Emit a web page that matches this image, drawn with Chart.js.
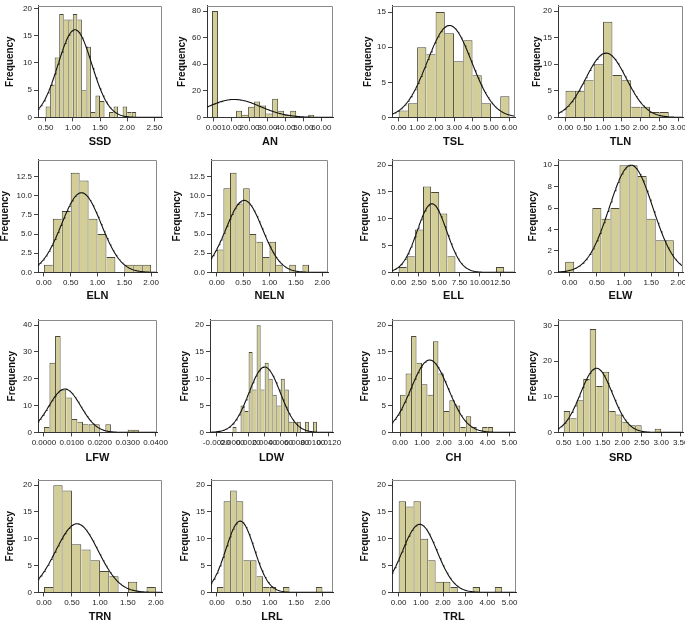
<!DOCTYPE html>
<html lang="en">
<head>
<meta charset="UTF-8"/>
<title>Histograms of leaf and stem traits</title>
<style>
    html, body {
        margin: 0;
        padding: 0;
        background: #fff;
        overflow: hidden;
    }
    body {
        width: 685px;
        height: 621px;
        position: relative;
    }
    canvas {
        position: absolute;
    }
</style>
</head>
<body>
<script src="https://cdn.jsdelivr.net/npm/chart.js"></script>
<script>
// ---- data ----
const panelNames = ['SSD', 'AN', 'TSL', 'TLN', 'ELN', 'NELN', 'ELL', 'ELW',
                    'LFW', 'LDW', 'CH', 'SRD', 'TRN', 'LRL', 'TRL'];

// histogram bins: start of first bin, bin width, frequencies
const binStarts = [0.5, -0.9, 0, 0, 0, 0, 0, -0.0833, 0, 0, 0, 0.5, 0, 0, 0];
const binWidths = [0.0833, 3.35, 0.5, 0.25, 0.1667, 0.125, 1, 0.1667,
                   0.002, 0.0005, 0.25, 0.1667, 0.1667, 0.125, 0.3333];

const ssdCounts  = [2, 6, 11, 19, 18, 18, 19, 18, 5, 13, 1, 4, 3, 0, 1, 2, 0, 2, 1, 1];
const anCounts   = [80, 0, 0, 0, 5, 2, 8, 12, 9, 3, 14, 5, 2, 5, 0, 0, 2];
const tslCounts  = [1, 2, 10, 9, 15, 12, 8, 11, 6, 2, 0, 3];
const tlnCounts  = [5, 5, 7, 10, 18, 8, 7, 2, 2, 1, 1];
const elnCounts  = [1, 7, 8, 13, 12, 7, 5, 2, 0, 1, 1, 1];
const nelnCounts = [3, 11, 13, 9, 11, 5, 4, 2, 4, 1, 0, 1, 0, 1];
const ellCounts  = [1, 3, 8, 16, 15, 11, 3, 0, 0, 0, 0, 0, 1];
const elwCounts  = [1, 0, 0, 6, 5, 6, 10, 10, 9, 5, 3, 3];
const lfwCounts  = [2, 26, 36, 16, 13, 5, 4, 3, 3, 3, 0, 3, 0, 0, 0, 1, 1];
const ldwCounts  = [1, 0, 5, 4, 15, 8, 20, 8, 13, 10, 7, 5, 10, 8, 2, 2, 2, 0, 2, 0, 2];
const chCounts   = [7, 11, 18, 13, 9, 7, 17, 11, 4, 6, 5, 1, 3, 1, 0, 1, 1];
const srdCounts  = [6, 4, 9, 15, 29, 13, 17, 6, 5, 3, 2, 2, 0, 0, 1];
const trnCounts  = [1, 20, 19, 9, 8, 6, 4, 3, 0, 2, 0, 1];
const lrlCounts  = [1, 17, 19, 17, 6, 6, 3, 1, 1, 0, 1, 0, 0, 0, 0, 1];
const trlCounts  = [17, 16, 17, 10, 6, 2, 2, 1, 0, 0, 1, 0, 0, 1];
const allCounts = [ssdCounts, anCounts, tslCounts, tlnCounts, elnCounts, nelnCounts,
                   ellCounts, elwCounts, lfwCounts, ldwCounts, chCounts, srdCounts,
                   trnCounts, lrlCounts, trlCounts];

// fitted normal curve (mean, sd, height of the peak) as drawn
const curveMeans = [1.04, 11.5, 2.75, 1.08, 0.70, 0.52, 4.1, 1.13, 0.0075, 0.0040, 1.35, 1.34, 0.59, 0.44, 0.95];
const curveSds   = [0.31, 14.5, 1.2, 0.54, 0.37, 0.345, 1.81, 0.40, 0.0057, 0.00195, 0.85, 0.41, 0.38, 0.27, 0.78];
const curvePeaks = [16.1, 13.5, 13.1, 12.1, 10.4, 9.4, 12.8, 10.0, 16.2, 12.2, 13.5, 18.0, 12.8, 13.3, 12.7];

// axes
const xMins  = [0.36, -3.7, -0.36, -0.2, -0.11, -0.11, -0.82, -0.215, -0.0021, -0.0028, -0.37, 0.354, -0.107, -0.113, -0.3];
const xMaxs  = [2.64, 66.5, 6.3, 3.13, 2.11, 2.11, 14.34, 2.086, 0.0405, 0.0125, 5.25, 3.56, 2.11, 2.2, 5.29];
const xSteps = [0.5, 10, 1, 0.5, 0.5, 0.5, 2.5, 0.5, 0.01, 0.002, 1, 0.5, 0.5, 0.5, 1];
const xDecimals = [2, 2, 2, 2, 2, 2, 2, 2, 4, 4, 2, 2, 2, 2, 2];
const yMaxs  = [20.5, 84, 15.9, 21, 14.7, 14.7, 21, 10.5, 42, 21, 21, 31.6, 21, 21, 21];
const ySteps = [5, 20, 5, 5, 2.5, 2.5, 5, 2, 10, 5, 5, 10, 5, 5, 5];
const yDecimals = [0, 0, 0, 0, 1, 1, 0, 0, 0, 0, 0, 0, 0, 0, 0];

// ---- layout: plot frames in page pixels ----
const boxLeft   = [38, 207, 392, 558, 38, 211, 392, 558, 38, 210, 392, 558, 38, 211, 392];
const boxRight  = [162, 333, 515, 683, 157, 328, 515, 683, 157, 333, 515, 683, 162, 333, 516];
const boxTop    = [5, 5, 5, 5, 159, 159, 159, 159, 319, 319, 319, 319, 479, 479, 479];
const boxBottom = [117, 117, 117, 117, 272, 272, 272, 272, 432, 432, 432, 432, 592, 592, 592];
const yTitleGap = [28, 25, 24, 21, 33, 34, 27, 25, 26, 25, 27, 25, 28, 26, 27];
const xTitleGap = [25, 25, 25, 25, 24, 24, 24, 24, 26, 26, 26, 26, 25, 25, 25];

const FONT = "'Liberation Sans', Arial, sans-serif";
const PAD_TOP = 6, PAD_RIGHT = 18;

const framePlugin = {
    id: 'frame',
    afterDraw(chart) {
        const a = chart.chartArea;
        const ctx = chart.ctx;
        ctx.save();
        ctx.strokeStyle = '#8a8a8a';
        ctx.lineWidth = 1;
        ctx.beginPath();
        ctx.moveTo(Math.round(a.left), Math.round(a.top) + 0.5);
        ctx.lineTo(Math.round(a.right) - 0.5, Math.round(a.top) + 0.5);
        ctx.lineTo(Math.round(a.right) - 0.5, Math.round(a.bottom));
        ctx.stroke();
        ctx.restore();
    }
};

function curvePoints(i) {
    const pts = [];
    const n = 160;
    for (let k = 0; k <= n; k++) {
        const x = xMins[i] + (xMaxs[i] - xMins[i]) * k / n;
        const z = (x - curveMeans[i]) / curveSds[i];
        pts.push({x: x, y: curvePeaks[i] * Math.exp(-0.5 * z * z)});
    }
    return pts;
}

function barPoints(i) {
    return allCounts[i].map((c, k) => ({x: binStarts[i] + (k + 0.5) * binWidths[i], y: c}));
}

panelNames.forEach((name, i) => {
    const counts = allCounts[i];
    const yw = yTitleGap[i] + 6;
    const xh = xTitleGap[i] + 6.6;
    const boxW = boxRight[i] - boxLeft[i];
    const boxH = boxBottom[i] - boxTop[i];

    const canvas = document.createElement('canvas');
    canvas.width = Math.round(yw + boxW + PAD_RIGHT);
    canvas.height = Math.round(PAD_TOP + boxH + xh);
    canvas.style.left = (boxLeft[i] - yw) + 'px';
    canvas.style.top = (boxTop[i] - PAD_TOP) + 'px';
    canvas.style.width = canvas.width + 'px';
    canvas.style.height = canvas.height + 'px';
    document.body.appendChild(canvas);

    new Chart(canvas.getContext('2d'), {
        type: 'bar',
        data: {
            datasets: [
                {
                    type: 'line',
                    data: curvePoints(i),
                    borderColor: '#111',
                    borderWidth: 1.1,
                    pointRadius: 0,
                    fill: false,
                    tension: 0,
                    order: 0
                },
                {
                    type: 'bar',
                    data: barPoints(i),
                    backgroundColor: '#d3ce97',
                    borderColor: '#4a4838',
                    barPercentage: 1,
                    categoryPercentage: 1,
                    inflateAmount: 0,
                    borderWidth: ctx => {
                        const k = ctx.dataIndex;
                        if (k === undefined) return 1;
                        const cur = counts[k];
                        const prev = k > 0 ? counts[k - 1] : 0;
                        const next = k < counts.length - 1 ? counts[k + 1] : 0;
                        return {top: 1, left: prev > cur ? 0 : 1, right: next >= cur ? 0 : 1, bottom: 0};
                    },
                    order: 1
                }
            ]
        },
        options: {
            responsive: false,
            animation: false,
            devicePixelRatio: 1,
            layout: {padding: {top: PAD_TOP, right: PAD_RIGHT, left: 0, bottom: 0}},
            plugins: {
                legend: {display: false},
                tooltip: {enabled: false}
            },
            scales: {
                x: {
                    type: 'linear',
                    min: xMins[i],
                    max: xMaxs[i],
                    offset: false,
                    afterFit: s => { s.height = xh; },
                    grid: {display: true, offset: false, drawOnChartArea: false, drawTicks: true, tickLength: 4, color: '#444'},
                    border: {display: true, color: '#333', width: 1},
                    ticks: {
                        stepSize: xSteps[i],
                        includeBounds: false,
                        autoSkip: false,
                        maxRotation: 0,
                        minRotation: 0,
                        padding: 2,
                        color: '#222',
                        font: {family: FONT, size: 8},
                        callback: v => Number(v).toFixed(xDecimals[i])
                    },
                    title: {
                        display: true,
                        text: name,
                        color: '#111',
                        padding: 0,
                        font: {family: FONT, size: 11, weight: 'bold', lineHeight: 1.2}
                    }
                },
                y: {
                    min: 0,
                    max: yMaxs[i],
                    afterFit: s => { s.width = yw; },
                    grid: {display: true, drawOnChartArea: false, drawTicks: true, tickLength: 4, color: '#444'},
                    border: {display: true, color: '#333', width: 1},
                    ticks: {
                        stepSize: ySteps[i],
                        includeBounds: false,
                        padding: 2,
                        color: '#222',
                        font: {family: FONT, size: 8},
                        callback: v => Number(v).toFixed(yDecimals[i])
                    },
                    title: {
                        display: true,
                        text: 'Frequency',
                        color: '#111',
                        padding: 0,
                        font: {family: FONT, size: 10, weight: 'bold', lineHeight: 1.2}
                    }
                }
            }
        },
        plugins: [framePlugin]
    });
});
</script>
</body>
</html>
